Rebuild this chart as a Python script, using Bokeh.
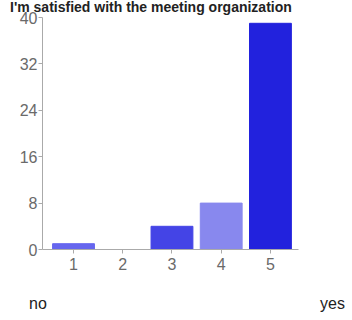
from bokeh.plotting import figure
from bokeh.layouts import column
from bokeh.models import ColumnDataSource, FixedTicker, Range1d, Div
from bokeh.embed import file_html
from bokeh.resources import INLINE

title_text = "I'm satisfied with the meeting organization"
categories = [1, 2, 3, 4, 5]
counts = [1, 0, 4, 8, 39]
bar_colors = ["#6666ee", "#5555ea", "#4444e6", "#8888ee", "#2222dd"]
y_ticks = [0, 8, 16, 24, 32, 40]
scale_labels = ["no", "yes"]

FONT = "Liberation Sans"
W = 350

# --- title ---
title_div = Div(
    width=W, height=11, margin=(0, 0, 0, 0),
    styles={"overflow": "visible", "z-index": "2"},
    text=(f'<div style="font-family:\'{FONT}\';font-size:14px;font-weight:bold;'
          f'color:#222;line-height:12px;padding-left:10px;white-space:nowrap;'
          f'overflow:visible;">{title_text}</div>'),
)

# --- main chart ---
source = ColumnDataSource(dict(x=categories, top=counts, color=bar_colors))

p = figure(width=W, height=274, output_backend="svg", toolbar_location=None,
           x_range=Range1d(0.37, 5.57), y_range=Range1d(0, 40),
           min_border_left=42, min_border_right=52, min_border_bottom=36,
           min_border_top=6, margin=(0, 0, 0, 0))
p.border_fill_alpha = 0
p.background_fill_alpha = 0
p.vbar(x="x", top="top", width=0.85, color="color", source=source)
p.xgrid.visible = False
p.ygrid.visible = False
p.outline_line_color = None

for ax in (p.xaxis[0], p.yaxis[0]):
    ax.axis_line_color = "#aaaaaa"
    ax.major_tick_line_color = "#aaaaaa"
    ax.minor_tick_line_color = None
    ax.major_tick_in = 0
    ax.major_tick_out = 4
    ax.major_label_text_color = "#6a6a6a"
    ax.major_label_text_font = FONT
    ax.major_label_text_font_size = "16px"
p.yaxis.major_label_standoff = 1
p.xaxis.major_label_standoff = 4

p.xaxis.ticker = FixedTicker(ticks=categories)
p.yaxis.ticker = FixedTicker(ticks=y_ticks)

# --- scale end labels ---
label_div = Div(
    width=W, height=33, margin=(0, 0, 0, 0),
    text=(f'<div style="font-family:\'{FONT}\';font-size:16px;color:#222;'
          f'line-height:18px;padding:10px 5px 0 29px;display:flex;'
          f'justify-content:space-between;width:{W}px;box-sizing:border-box;">'
          f'<span>{scale_labels[0]}</span><span>{scale_labels[1]}</span></div>'),
)

layout = column(title_div, p, label_div, spacing=0, margin=(0, 0, 0, 0))
open("out.html", "w").write(file_html(layout, INLINE))
